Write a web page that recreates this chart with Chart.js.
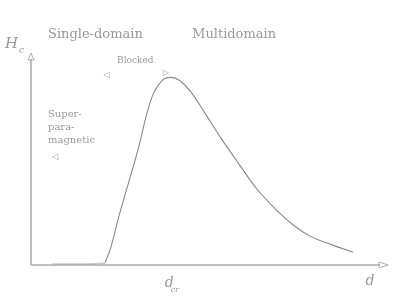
<!DOCTYPE html>
<html>
<head>
<meta charset="utf-8">
<script src="https://cdn.jsdelivr.net/npm/chart.js@4.4.0/dist/chart.umd.min.js"></script>
<style>
  body { margin: 0; background: #fff; }
  #wrap { width: 400px; height: 304px; }
</style>
</head>
<body>
<div id="wrap"><canvas id="myChart" width="400" height="304"></canvas></div>
<script>
// particle diameter (arbitrary units) and coercivity Hc (arbitrary units)
var flatX = [0.59, 1.6, 2.09];
var flatY = [0.05, 0.05, 0.08];

var curveX = [2.09, 2.25, 2.5, 3.0, 3.4, 3.7, 3.95, 4.2, 4.5, 4.9, 5.4, 5.9, 6.4, 6.9, 7.4, 7.9, 8.5, 9.1];
var curveY = [0.1, 0.8, 2.4, 5.3, 7.85, 8.7, 8.85, 8.7, 8.2, 7.2, 5.9, 4.7, 3.55, 2.65, 1.9, 1.35, 0.95, 0.6];

var flatPts = flatX.map((x, i) => ({ x: x, y: flatY[i] }));
var curvePts = curveX.map((x, i) => ({ x: x, y: curveY[i] }));

// text labels, placed in data units
var labels = [
  { t: "Single-domain", x: 0.48, y: 10.7, size: 13 },
  { t: "Multidomain", x: 4.55, y: 10.7, size: 13 },
  { t: "Blocked", x: 2.43, y: 9.55, size: 9 },
  { t: "Super-", x: 0.48, y: 6.98, size: 10 },
  { t: "para-", x: 0.48, y: 6.37, size: 10 },
  { t: "magnetic", x: 0.48, y: 5.75, size: 10 },
  { t: "\u25C1", x: 2.05, y: 8.85, size: 8 },
  { t: "\u25C1", x: 0.60, y: 5.0, size: 8 },
  { t: "\u25B7", x: 3.72, y: 8.95, size: 8 }
];

var axesPlugin = {
  id: "axesPlugin",
  afterDraw(chart) {
    const ctx = chart.ctx;
    const a = chart.chartArea;
    const xs = chart.scales.x, ys = chart.scales.y;
    ctx.save();
    ctx.strokeStyle = "#aaa";
    ctx.lineWidth = 1.5;
    ctx.beginPath();
    ctx.moveTo(a.left, a.bottom);
    ctx.lineTo(a.left, a.top + 6);
    ctx.moveTo(a.left, a.bottom);
    ctx.lineTo(a.right - 5, a.bottom);
    ctx.stroke();
    // open arrow heads
    ctx.lineWidth = 0.8;
    ctx.strokeStyle = "#999";
    ctx.beginPath();
    ctx.moveTo(a.left - 3, a.top + 7);
    ctx.lineTo(a.left, a.top);
    ctx.lineTo(a.left + 3, a.top + 7);
    ctx.closePath();
    ctx.moveTo(a.right - 6, a.bottom - 3);
    ctx.lineTo(a.right + 3, a.bottom);
    ctx.lineTo(a.right - 6, a.bottom + 3);
    ctx.closePath();
    ctx.stroke();

    ctx.fillStyle = "#999";
    ctx.textBaseline = "alphabetic";
    labels.forEach(l => {
      ctx.font = l.size + "px 'DejaVu Serif'";
      ctx.fillText(l.t, xs.getPixelForValue(l.x), ys.getPixelForValue(l.y));
    });

    // axis titles
    ctx.font = "italic 15px 'DejaVu Serif'";
    ctx.fillText("H", a.left - 26, a.top - 5);
    ctx.font = "italic 9px 'DejaVu Serif'";
    ctx.fillText("c", a.left - 12, a.top);
    ctx.font = "italic 14px 'DejaVu Serif'";
    ctx.fillText("d", xs.getPixelForValue(3.78), a.bottom + 22);
    ctx.font = "italic 8px 'DejaVu Serif'";
    ctx.fillText("cr", xs.getPixelForValue(3.95), a.bottom + 27);
    ctx.font = "italic 14px 'DejaVu Serif'";
    ctx.fillText("d", xs.getPixelForValue(9.45), a.bottom + 20);
    ctx.restore();
  }
};

new Chart(document.getElementById("myChart"), {
  type: "line",
  data: {
    datasets: [
      {
        data: flatPts,
        borderColor: "#c8c8c8",
        borderWidth: 1.5,
        pointRadius: 0,
        tension: 0
      },
      {
        data: curvePts,
        borderColor: "#888",
        borderWidth: 1.1,
        pointRadius: 0,
        tension: 0.4
      }
    ]
  },
  options: {
    responsive: false,
    animation: false,
    layout: { padding: { left: 31, right: 15, top: 53, bottom: 39 } },
    plugins: { legend: { display: false }, tooltip: { enabled: false } },
    scales: {
      x: { type: "linear", min: 0, max: 10, display: false },
      y: { type: "linear", min: 0, max: 10, display: false }
    }
  },
  plugins: [axesPlugin]
});
</script>
</body>
</html>
